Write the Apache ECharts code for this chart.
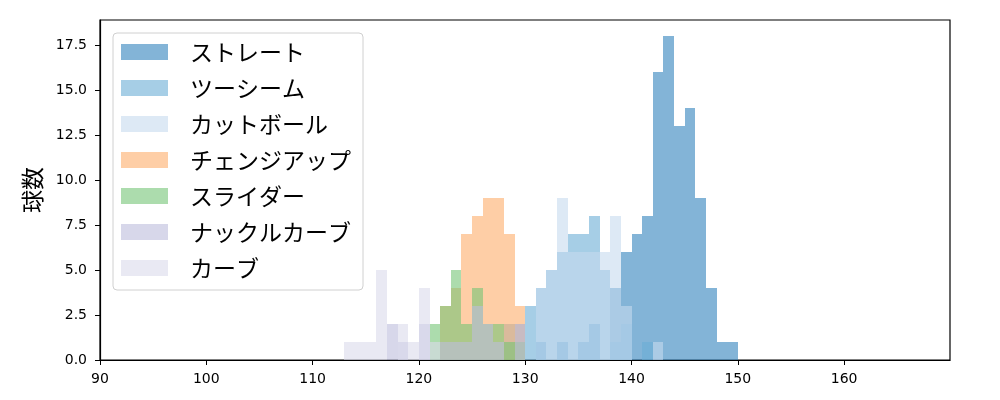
<!DOCTYPE html>
<html>
<head>
<meta charset="utf-8">
<script src="https://cdn.jsdelivr.net/npm/echarts@6/dist/echarts.min.js"></script>
<style>
html,body{margin:0;padding:0;background:#fff;}
#chart{width:1000px;height:400px;}
</style>
</head>
<body>
<div id="chart"></div>
<script>
// bin start values (bin width 1 km/h)
const bins = [113,114,115,116,117,118,119,120,121,122,123,124,125,126,127,128,129,130,131,132,133,134,135,136,137,138,139,140,141,142,143,144,145,146,147,148,149];
const straight   = [0,0,0,0,0,0,0,0,0,0, 0,0,0,0,0,0,0,0,1,0, 1,0,1,2,0,4,6,7,8,16, 18,13,14,9,4,1,1];
const twoSeam    = [0,0,0,0,0,0,0,0,0,0, 0,0,0,0,0,2,2,3,4,5, 6,7,7,8,5,1,2,0,1,0, 0,0,0,0,0,0,0];
const cutBall    = [0,0,0,0,0,0,0,0,0,0, 0,0,0,0,0,0,0,0,4,5, 9,6,6,6,6,8,3,0,0,1, 0,0,0,0,0,0,0];
const changeUp   = [0,0,0,0,0,0,0,0,0,3, 4,7,8,9,9,7,3,0,0,0, 0,0,0,0,0,0,0,0,0,0, 0,0,0,0,0,0,0];
const slider     = [0,0,0,0,0,0,0,0,2,3, 5,2,4,2,2,1,1,0,0,0, 0,0,0,0,0,0,0,0,0,0, 0,0,0,0,0,0,0];
const knuckle    = [0,0,0,0,2,1,0,2,0,1, 1,1,3,2,1,0,2,0,0,0, 0,0,0,0,0,0,0,0,0,0, 0,0,0,0,0,0,0];
const curve      = [1,1,1,5,0,2,1,4,1,0, 0,0,0,0,0,0,0,0,0,0, 0,0,0,0,0,0,0,0,0,0, 0,0,0,0,0,0,0];
const seriesNames = ['ストレート','ツーシーム','カットボール','チェンジアップ','スライダー','ナックルカーブ','カーブ'];
const xTicks = [90,100,110,120,130,140,150,160];
const yTicks = [0,2.5,5,7.5,10,12.5,15,17.5];

const seriesValues = [straight, twoSeam, cutBall, changeUp, slider, knuckle, curve];
const colors = ['#3182bd','#6baed6','#c6dbef','#fdae6b','#74c476','#bcbddc','#dadaeb'];
const ALPHA = 0.6;

function renderBar(color) {
  return function (params, api) {
    const x0 = api.value(0), y = api.value(1);
    const p0 = api.coord([x0, y]);
    const p1 = api.coord([x0 + 1, 0]);
    const xa = Math.round(p0[0]), xb = Math.round(p1[0]);
    const ya = Math.round(p0[1]), yb = Math.round(p1[1]);
    return {
      type: 'rect',
      shape: { x: xa, y: ya, width: xb - xa, height: yb - ya },
      style: { fill: color, opacity: ALPHA }
    };
  };
}

const series = seriesNames.map((name, i) => ({
  name: name,
  type: 'custom',
  renderItem: renderBar(colors[i]),
  itemStyle: { color: colors[i], opacity: ALPHA },
  encode: { x: 0, y: 1 },
  clip: true,
  data: bins.map((b, j) => [b, seriesValues[i][j]]).filter(d => d[1] > 0)
}));

const chart = echarts.init(document.getElementById('chart'), null, { renderer: 'canvas' });
chart.setOption({
  animation: false,
  backgroundColor: '#fff',
  textStyle: { fontFamily: 'DejaVu Sans' },
  grid: { left: 100, right: 50, top: 20, bottom: 40, show: true, borderColor: '#000', borderWidth: 1.2, backgroundColor: 'transparent' },
  legend: {
    orient: 'vertical',
    left: 113, top: 33,
    padding: [7, 12, 10, 8],
    itemWidth: 47, itemHeight: 16, itemGap: 12,
    icon: 'rect',
    borderColor: '#d0d0d0', borderWidth: 1, borderRadius: 4,
    backgroundColor: 'rgba(255,255,255,0.8)',
    textStyle: { fontFamily: 'Noto Sans CJK JP', fontSize: 23, color: '#000', lineHeight: 24, padding: [0, 0, 0, 17] },
    data: seriesNames.map((n, i) => ({ name: n, itemStyle: { color: colors[i], opacity: ALPHA } }))
  },
  xAxis: {
    type: 'value', min: 90, max: 169.96,
    axisLine: { show: true, lineStyle: { color: '#000', width: 1.2 } },
    axisTick: { show: true, length: 5, lineStyle: { color: '#000' }, customValues: xTicks },
    axisLabel: { color: '#000', fontSize: 14, margin: 12, fontFamily: 'DejaVu Sans', customValues: xTicks },
    splitLine: { show: false }
  },
  yAxis: {
    type: 'value', min: 0, max: 18.9,
    name: '球数', nameLocation: 'middle', nameGap: 56, nameRotate: 90,
    nameTextStyle: { fontFamily: 'Noto Sans CJK JP', fontSize: 23, color: '#000' },
    axisLine: { show: true, lineStyle: { color: '#000', width: 1.2 } },
    axisTick: { show: true, length: 5, lineStyle: { color: '#000' }, customValues: yTicks },
    axisLabel: { color: '#000', fontSize: 14, margin: 13, fontFamily: 'DejaVu Sans', customValues: yTicks, formatter: v => v.toFixed(1) },
    splitLine: { show: false }
  },
  series: series
});
</script>
</body>
</html>
